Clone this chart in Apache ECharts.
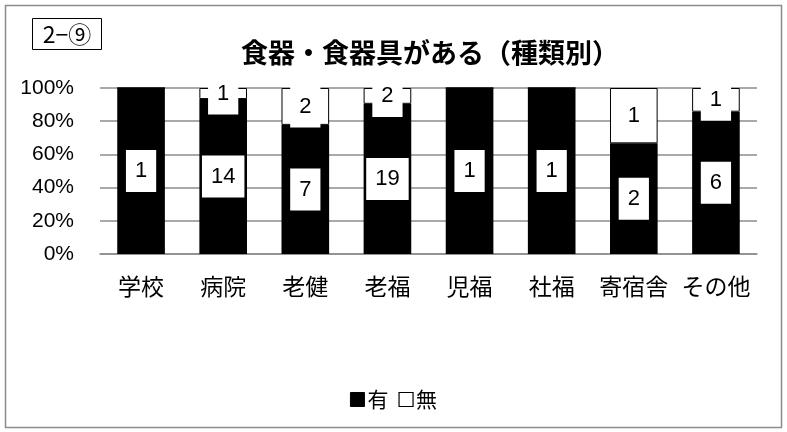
<!DOCTYPE html>
<html><head><meta charset="utf-8">
<script src="https://cdn.jsdelivr.net/npm/echarts@6/dist/echarts.min.js"></script>
<style>html,body{margin:0;padding:0;background:#fff}#c{width:787px;height:432px}</style>
</head><body><div id="c"></div>
<script>
const categories = ['学校','病院','老健','老福','児福','社福','寄宿舎','その他'];
const yesCounts = [1,14,7,19,1,1,2,6];
const noCounts  = [0,1,2,2,0,0,1,1];
const yTicks = ['0%','20%','40%','60%','80%','100%'];
const titleText = '食器・食器具がある（種類別）';
const tagText = '2−⑨';

const totals = categories.map((_, i) => yesCounts[i] + noCounts[i]);
const pct = (arr) => arr.map((v, i) => ({ value: v / totals[i] * 100, raw: v, label: { show: v > 0 } }));

const FONT = '"Noto Sans CJK JP", sans-serif';
const NUMFONT = '"Liberation Sans", Arial, sans-serif';
const labelStyle = {
  show: true, position: 'inside', color: '#000', backgroundColor: '#fff',
  padding: [10, 9], fontSize: 22, lineHeight: 22, fontFamily: NUMFONT,
  formatter: p => String(p.data.raw)
};

const chart = echarts.init(document.getElementById('c'), null, { renderer: 'canvas' });
chart.setOption({
  animation: false,
  backgroundColor: '#fff',
  graphic: [
    { type: 'rect', shape: { x: 5.5, y: 5.5, width: 776, height: 422 }, style: { fill: 'none', stroke: '#8c8c8c', lineWidth: 1.5 } },
    { type: 'rect', shape: { x: 32.5, y: 18.5, width: 69, height: 31 }, style: { fill: '#fff', stroke: '#000', lineWidth: 1 } },
    { type: 'text', x: 67, y: 34, style: { text: tagText, fontSize: 23, fontFamily: FONT, fill: '#000', align: 'center', verticalAlign: 'middle' } }
  ],
  title: {
    text: titleText, left: 425, textAlign: 'center', top: 34,
    textStyle: { fontSize: 27, fontWeight: 'bold', fontFamily: FONT, color: '#000' }
  },
  legend: {
    top: 384, left: 'center', itemWidth: 14, itemHeight: 14, itemGap: 10,
    icon: 'rect',
    textStyle: { fontSize: 21, fontFamily: FONT, color: '#000', padding: [0, 0, 0, -2] },
    data: [
      { name: '有', itemStyle: { color: '#000', borderColor: '#000', borderWidth: 1 } },
      { name: '無', itemStyle: { color: '#fff', borderColor: '#000', borderWidth: 1.2 } }
    ]
  },
  grid: { left: 100, right: 30, top: 88, bottom: 178, containLabel: false },
  xAxis: {
    type: 'category', data: categories,
    axisLine: { show: true, lineStyle: { color: '#8c8c8c', width: 1.5 } },
    axisTick: { show: false },
    axisLabel: { fontSize: 23, fontFamily: FONT, color: '#000', margin: 21, interval: 0 }
  },
  yAxis: {
    type: 'value', min: 0, max: 100, interval: 20,
    axisLine: { show: false }, axisTick: { show: false },
    axisLabel: { fontSize: 21, fontFamily: NUMFONT, color: '#000', margin: 26,
      formatter: v => yTicks[Math.round(v / 20)] },
    splitLine: { lineStyle: { color: '#8c8c8c', width: 1.5 } }
  },
  series: [
    { name: '有', type: 'bar', stack: 's', barWidth: '58%', data: pct(yesCounts),
      itemStyle: { color: '#000' }, label: labelStyle },
    { name: '無', type: 'bar', stack: 's', barWidth: '58%', data: pct(noCounts),
      itemStyle: { color: '#fff', borderColor: '#000', borderWidth: 1 }, label: labelStyle }
  ]
});
</script></body></html>
